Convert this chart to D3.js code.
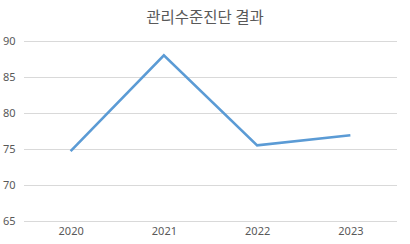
<!DOCTYPE html>
<html>
<head>
<meta charset="utf-8">
<script src="https://cdn.jsdelivr.net/npm/d3@7"></script>
<style>
    body { margin: 0; background: #fff; }
    text { font-family: "Noto Sans", "Noto Sans CJK KR", sans-serif; fill: #595959; }
</style>
</head>
<body>
<div id="chart"></div>
<script>
// data
const years = ["2020", "2021", "2022", "2023"];
const scores = [74.7, 88, 75.5, 76.9];
const yTicks = [65, 70, 75, 80, 85, 90];
const title = "관리수준진단 결과";

const width = 410;
const height = 244;
const margin = { top: 41, bottom: 23, left: 24, right: 13 };

const svg = d3
    .select("div#chart")
    .append("svg")
    .attr("width", width)
    .attr("height", height);

const x = d3
    .scalePoint()
    .domain(years)
    .range([margin.left, width - margin.right])
    .padding(0.5);

const y = d3
    .scaleLinear()
    .domain([65, 90])
    .range([height - margin.bottom, margin.top]);

// grid + y labels
const yAxis = d3
    .axisLeft(y)
    .tickValues(yTicks)
    .tickSize(-(width - margin.left - margin.right))
    .tickPadding(6);

const yAxisGroup = svg
    .append("g")
    .attr("transform", `translate(${margin.left},0)`)
    .call(yAxis);
yAxisGroup.select(".domain").remove();
yAxisGroup.selectAll("line").attr("stroke", "#d9d9d9");
yAxisGroup
    .selectAll("text")
    .attr("x", -21)
    .attr("text-anchor", "start")
    .style("font-size", "11px")
    .style("fill", "#595959");

// x labels
const xAxis = d3.axisBottom(x).tickSize(0).tickPadding(6);
const xAxisGroup = svg
    .append("g")
    .attr("transform", `translate(0,${height - margin.bottom})`)
    .call(xAxis);
xAxisGroup.select(".domain").remove();
xAxisGroup
    .selectAll("text")
    .style("font-size", "11px")
    .style("fill", "#595959");

// line
const line = d3
    .line()
    .x((d, i) => x(years[i]))
    .y((d) => y(d));

svg.append("path")
    .datum(scores)
    .attr("fill", "none")
    .attr("stroke", "#5b9bd5")
    .attr("stroke-width", 2.6)
    .attr("stroke-linejoin", "miter")
    .attr("d", line);

// title
svg.append("text")
    .attr("x", width / 2)
    .attr("y", 23)
    .attr("text-anchor", "middle")
    .style("font-family", '"Noto Sans CJK KR", sans-serif')
    .style("font-size", "15.5px")
    .text(title);
</script>
</body>
</html>
